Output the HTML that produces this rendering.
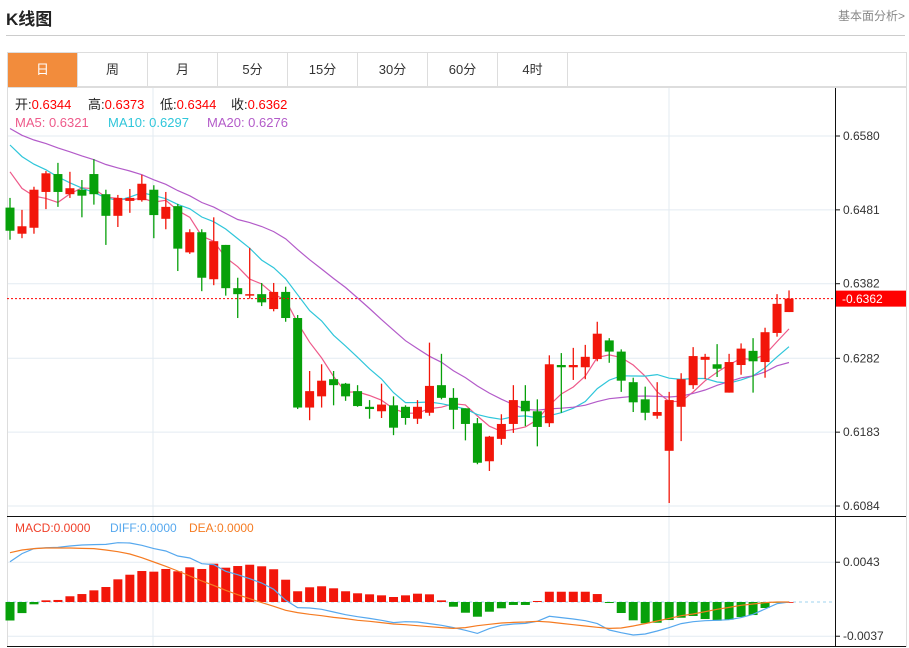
<!DOCTYPE html>
<html><head><meta charset="utf-8">
<style>
body{margin:0;background:#fff;font-family:"Liberation Sans","Noto Sans CJK SC",sans-serif;}
#wrap{position:relative;width:909px;height:648px;overflow:hidden;}
.title{position:absolute;left:6px;top:5px;font-size:17px;font-weight:bold;color:#222;}
.link{position:absolute;right:4px;top:7px;font-size:12px;color:#888;}
.hr{position:absolute;left:6px;top:35px;width:899px;height:1px;background:#ccc;}
.tabs{position:absolute;left:7px;top:52px;width:900px;height:35px;border:1px solid #ddd;box-sizing:border-box;display:flex;}
.tab{width:70px;height:34px;border-right:1px solid #ddd;box-sizing:border-box;text-align:center;line-height:34px;font-size:13px;color:#333;}
.tab.on{background:#f28c3c;color:#fff;}
svg{position:absolute;left:0;top:0;}
</style></head><body>
<div id="wrap">
<div class="title">K线图</div>
<div class="link">基本面分析&gt;</div>
<div class="hr"></div>
<div class="tabs">
<div class="tab on">日</div>
<div class="tab">周</div>
<div class="tab">月</div>
<div class="tab">5分</div>
<div class="tab">15分</div>
<div class="tab">30分</div>
<div class="tab">60分</div>
<div class="tab">4时</div>
</div>
<svg id="chart" width="909" height="648"></svg>
</div>
<script>
const opens=[.6484,.6449,.6457,.6505,.6529,.6502,.6508,.6529,.6502,.6473,.6493,.6494,.6508,.6469,.6486,.6424,.6451,.6388,.6434,.6376,.6366,.6368,.6348,.6371,.6336,.6216,.6231,.6254,.6248,.6238,.6217,.6211,.6219,.6217,.6201,.6209,.6246,.6229,.6215,.6195,.6144,.6174,.6194,.6225,.6211,.6195,.6273,.6270,.6270,.6281,.6306,.6291,.6250,.6227,.6205,.6158,.6217,.6246,.6280,.6274,.6236,.6273,.6292,.6277,.6316,.6344];
const highs=[.6497,.6481,.6512,.6533,.6544,.6532,.6521,.6549,.6508,.6501,.6509,.6528,.6514,.6505,.6489,.6455,.6455,.6471,.6434,.6390,.6430,.6383,.6383,.6378,.6340,.6265,.6274,.6265,.6249,.6246,.6226,.6248,.6231,.6219,.6226,.6303,.6288,.6242,.6215,.6202,.6178,.6207,.6246,.6246,.6227,.6286,.6289,.6296,.6300,.6331,.6309,.6294,.6256,.6244,.6250,.6237,.6262,.6297,.6288,.6301,.6288,.6302,.6309,.6323,.6368,.6373];
const lows=[.6441,.6443,.6449,.6482,.6485,.6497,.6471,.6488,.6434,.6458,.6477,.6492,.6443,.6455,.6399,.6422,.6372,.6380,.6366,.6336,.6362,.6352,.6345,.6331,.6214,.6199,.6216,.6219,.6225,.6217,.6201,.6202,.6179,.6193,.6194,.6205,.6227,.6187,.6172,.6140,.6131,.6166,.6182,.6191,.6164,.6190,.6209,.6253,.6254,.6278,.6276,.6237,.6210,.6199,.6201,.6088,.6171,.6241,.6254,.6257,.6236,.6260,.6236,.6256,.6311,.6344];
const closes=[.6453,.6459,.6508,.6530,.6505,.6510,.6500,.6502,.6473,.6497,.6497,.6516,.6474,.6485,.6429,.6451,.6390,.6439,.6376,.6368,.6368,.6357,.6371,.6336,.6216,.6238,.6252,.6246,.6231,.6218,.6214,.6220,.6189,.6202,.6217,.6245,.6229,.6213,.6194,.6142,.6177,.6194,.6226,.6211,.6190,.6274,.6270,.6273,.6284,.6315,.6291,.6252,.6223,.6209,.6210,.6226,.6254,.6285,.6284,.6268,.6277,.6295,.6278,.6317,.6355,.6362];
const priorCloses=[.6640,.6635,.6625,.6620,.6615,.6610,.6605,.6600,.6590,.6580,.6615,.6610,.6605,.6600,.6590,.6570,.6560,.6545,.6532];
const macdHist=[-20,-12,-2.5,1.8,2.2,6.2,8.6,12.6,16.2,24.5,29.5,33.5,32.8,35.7,33.2,37.5,35.7,41.4,37.1,38.9,40.3,38.6,35.4,24.1,11.6,15.9,17,14.8,11.6,9.4,8.3,7.2,5.4,7.2,9,8.3,1.8,-5.1,-11.6,-15.9,-10.5,-6.8,-3.2,-3.2,1.1,11.1,11.1,11.1,11.1,8.6,-1.1,-11.9,-19.8,-23,-22.4,-19.5,-17,-15.1,-18.4,-20.2,-19.1,-16.2,-14.1,-6.5,-0.8,0];
const diffLine=[43.6,52.3,57.7,58.7,59.1,60.5,61.6,62,62.3,64.1,63.8,61.3,57.7,55.1,49.7,47.6,41.4,40.4,33.2,29.5,25.2,20.5,13.7,1.8,-6.1,-6.5,-7.9,-10.8,-13.7,-15.9,-17.7,-19.8,-22.3,-21.3,-21.6,-23.4,-25.2,-27.7,-30.6,-33.9,-28.8,-25.2,-23.8,-23.1,-20.9,-15.5,-16.9,-18.4,-20.2,-23.4,-30.3,-33.2,-35.7,-34.6,-31.4,-27.7,-23.4,-21.3,-20.2,-19.8,-19.1,-16.9,-13.3,-7.6,-1.8,0];
const deaLine=[53.3,56.2,57.7,58.4,58.4,58.4,58,57.7,56.2,54.4,51.9,47.9,43.2,38.6,33.5,28.1,22.7,18,12.6,7.9,3.6,-0.7,-4.7,-9,-11.5,-13.3,-14.8,-16.6,-18,-19.8,-20.9,-22.3,-23.8,-24.5,-25.6,-26.7,-27.7,-28.5,-27.7,-25.6,-24.1,-22.7,-22,-21.6,-20.9,-21.6,-23.1,-24.5,-25.9,-27.4,-28.5,-28.1,-25.9,-23.4,-20.5,-17.7,-14.8,-13,-10.5,-7.9,-5.8,-3.6,-2.2,-0.7,0,0];
const priceTicks=[0.6580,0.6481,0.6382,0.6282,0.6183,0.6084];
const macdTicks=[0.0043,-0.0037];
const lastPrice=0.6362;

const svg=document.getElementById('chart');
const NS='http://www.w3.org/2000/svg';
function mk(tag,attrs,parent){const e=document.createElementNS(NS,tag);for(const k in attrs)e.setAttribute(k,attrs[k]);(parent||svg).appendChild(e);return e;}
const xOf=i=>10+i*11.985;
const yP=v=>136+(0.6580-v)*7460;
const yM=v=>602-v*9250;
const RED='#f2160a',GREEN='#07a00a';

priceTicks.forEach(t=>{const g=mk('line',{x1:7,x2:835,y1:yP(t),y2:yP(t),stroke:'#e3ebf2'});
});
macdTicks.forEach(t=>{const g=mk('line',{x1:7,x2:835,y1:yM(t),y2:yM(t),stroke:'#e3ebf2'});
});
[153,669].forEach(x=>{const g=mk('line',{x1:x,x2:x,y1:88,y2:646,stroke:'#e3ebf2'});
});
const fr=mk('rect',{x:7.5,y:87.5,width:899,height:559,fill:'none',stroke:'#ddd'});

const ax=mk('line',{x1:835.5,x2:835.5,y1:88,y2:646,stroke:'#111'});

const sep=mk('line',{x1:7,x2:906,y1:516.5,y2:516.5,stroke:'#111'});

const bot=mk('line',{x1:7,x2:906,y1:646.5,y2:646.5,stroke:'#111'});


priceTicks.forEach(t=>{const y=yP(t);
const tk=mk('line',{x1:835,x2:840,y1:y,y2:y,stroke:'#111'});

const tx=mk('text',{x:843,y:y+4,'font-size':12,fill:'#333'});tx.textContent=t.toFixed(4);
});
macdTicks.forEach(t=>{const y=yM(t);
const tk=mk('line',{x1:835,x2:840,y1:y,y2:y,stroke:'#111'});

const tx=mk('text',{x:843,y:y+4,'font-size':12,fill:'#333'});tx.textContent=t.toFixed(4);
});

const all=priorCloses.concat(closes);
function ma(n){return closes.map((c,i)=>{const j=i+priorCloses.length;let s=0;for(let k=j-n+1;k<=j;k++)s+=all[k];return s/n;});}
[[5,'#ee5a8a','ma5-line'],[10,'#2fc6da','ma10-line'],[20,'#b35bc9','ma20-line']].forEach(([n,c,name])=>{
const m=ma(n);const d=m.map((v,i)=>(i?'L':'M')+xOf(i).toFixed(1)+' '+yP(v).toFixed(1)).join(' ');
const p=mk('path',{d:d,fill:'none',stroke:c,'stroke-width':1.2});
});

closes.forEach((c,i)=>{const o=opens[i],up=c>=o,col=up?RED:GREEN,x=xOf(i);
const g=mk('g',{});

mk('line',{x1:x,x2:x,y1:yP(highs[i]),y2:yP(lows[i]),stroke:col,'stroke-width':1.3},g);
const top=yP(Math.max(o,c)),h=Math.max(1.5,Math.abs(yP(o)-yP(c)));
mk('rect',{x:x-4.5,y:top,width:9,height:h,fill:col},g);});

const ly=yP(lastPrice);
const lp=mk('line',{x1:7,x2:835,y1:ly,y2:ly,stroke:'#f00','stroke-dasharray':'2,2'});

const lb=mk('rect',{x:836,y:ly-8,width:70,height:16,fill:'#f00'});

const lt=mk('text',{x:842,y:ly+4.5,'font-size':12,fill:'#fff'});lt.textContent='-'+lastPrice.toFixed(4);


const zl=mk('line',{x1:7,x2:835,y1:yM(0),y2:yM(0),stroke:'#9fd3ef','stroke-dasharray':'3,3'});

macdHist.forEach((v,i)=>{const val=v*1e-4,y0=yM(0),y1=yM(val);
const b=mk('rect',{x:xOf(i)-4.5,y:Math.min(y0,y1),width:9,height:Math.max(0.8,Math.abs(y1-y0)),fill:v>=0?RED:GREEN});
});
[[diffLine,'#56a8ee','diff-line'],[deaLine,'#f57b22','dea-line']].forEach(([arr,c,name])=>{
const d=arr.map((v,i)=>(i?'L':'M')+xOf(i).toFixed(1)+' '+yM(v*1e-4).toFixed(1)).join(' ');
const p=mk('path',{d:d,fill:'none',stroke:c,'stroke-width':1.2});
});

function item(x,y,size,parts,name){const t=mk('text',{x:x,y:y,'font-size':size});

parts.forEach(([s,c])=>{const sp=mk('tspan',{fill:c},t);sp.textContent=s;});}
item(15,109,13,[['开:','#222'],['0.6344','#f00']],'legend-open');
item(88,109,13,[['高:','#222'],['0.6373','#f00']],'legend-high');
item(160,109,13,[['低:','#222'],['0.6344','#f00']],'legend-low');
item(231,109,13,[['收:','#222'],['0.6362','#f00']],'legend-close');
item(15,127,13,[['MA5: 0.6321','#ee5a8a']],'legend-ma5');
item(108,127,13,[['MA10: 0.6297','#2fc6da']],'legend-ma10');
item(207,127,13,[['MA20: 0.6276','#b35bc9']],'legend-ma20');
item(15,532,12,[['MACD:0.0000','#f0402a']],'legend-macd');
item(110,532,12,[['DIFF:0.0000','#56a8ee']],'legend-diff');
item(189,532,12,[['DEA:0.0000','#f57b22']],'legend-dea');
</script>
</body></html>
